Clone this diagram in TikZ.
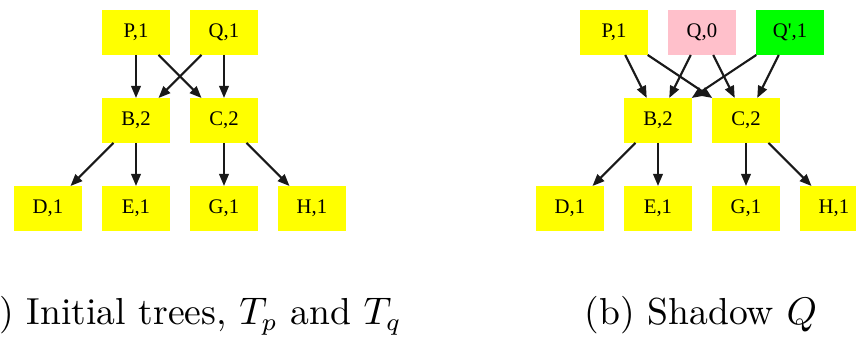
\documentclass[tikz,border=0pt]{standalone}
\usepackage{fontspec}
\newfontfamily\dotfont{Liberation Serif}
\usepackage{tikz}
\usetikzlibrary{positioning, arrows.meta}

\definecolor{dotyellow}{RGB}{255,255,0}
\definecolor{dotpink}{RGB}{255,192,203}
\definecolor{dotgreen}{RGB}{0,255,0}

\begin{document}
\begin{tikzpicture}[
    node distance=0.43cm and 0.2cm,
    box/.style={fill=dotyellow, inner sep=0pt, outer sep=0pt, minimum width=0.68cm, minimum height=0.45cm, font=\dotfont\fontsize{5.9}{7}\selectfont},
    arrow/.style={-{Triangle[length=0.12cm, width=0.095cm]}, line width=0.6pt, draw=black!90},
    caption/.style={anchor=base, font=\fontsize{10.7}{13}\selectfont}
]
\useasboundingbox (0,0) rectangle (8.56,-3.39);

% (a) initial trees
\node[box] (pa) at (1.36,-0.325) {P,1};
\node[box, right=of pa] (qa) {Q,1};
\node[box, below=of pa] (ba) {B,2};
\node[box, below=of qa] (ca) {C,2};
\node[box, below=of ba] (ea) {E,1};
\node[box, left=of ea] (da) {D,1};
\node[box, right=of ea] (ga) {G,1};
\node[box, right=of ga] (ha) {H,1};

\draw[arrow] (pa) -- (ba);
\draw[arrow] (pa) -- (ca);
\draw[arrow] (qa) -- (ba);
\draw[arrow] (qa) -- (ca);
\draw[arrow] (ba) -- (da);
\draw[arrow] (ba) -- (ea);
\draw[arrow] (ca) -- (ga);
\draw[arrow] (ca) -- (ha);

% (b) shadow
\node[box] (pb) at (6.14,-0.325) {P,1};
\node[box, right=of pb, fill=dotpink] (qb) {Q,0};
\node[box, right=of qb, fill=dotgreen] (qsb) {Q',1};
\node[box, below=of pb, xshift=0.44cm] (bb) {B,2};
\node[box, right=of bb] (cb) {C,2};
\node[box, below=of bb] (eb) {E,1};
\node[box, left=of eb] (db) {D,1};
\node[box, right=of eb] (gb) {G,1};
\node[box, right=of gb] (hb) {H,1};

\draw[arrow] (pb) -- (bb);
\draw[arrow] (pb) -- (cb);
\draw[arrow] (qb) -- (bb);
\draw[arrow] (qb) -- (cb);
\draw[arrow] (qsb) -- (bb);
\draw[arrow] (qsb) -- (cb);
\draw[arrow] (bb) -- (db);
\draw[arrow] (bb) -- (eb);
\draw[arrow] (cb) -- (gb);
\draw[arrow] (cb) -- (hb);

% captions
\node[caption] (capa) at (1.84,-3.25) {(a) Initial trees, $T_p$ and $T_q$};
\node[caption] (capb) at (7.01,-3.25) {(b) Shadow $Q$};
\end{tikzpicture}
\end{document}
